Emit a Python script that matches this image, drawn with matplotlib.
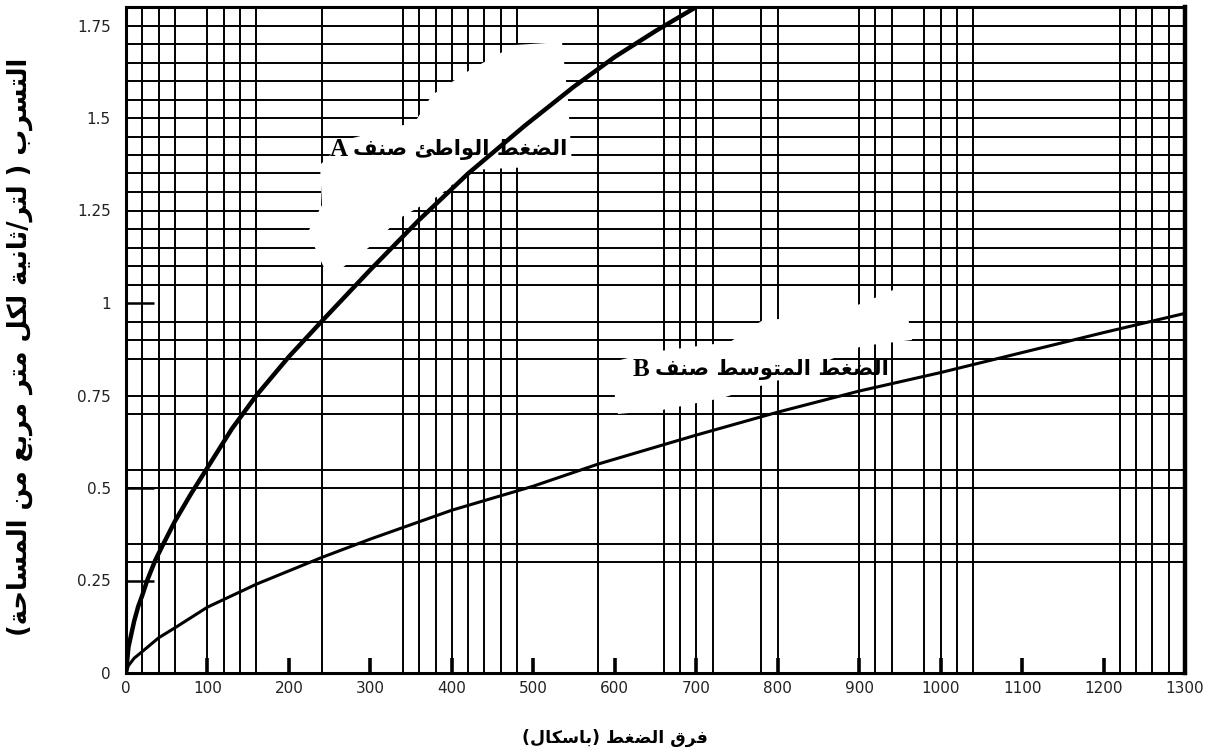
"""Leakage vs pressure difference chart for class A / class B ducts."""

import re

import matplotlib

matplotlib.use("Agg")
import matplotlib.pyplot as plt
from matplotlib.patches import Polygon
from matplotlib.ticker import FixedLocator

# values
pressure_a = [0, 3, 6, 10, 15, 20, 26, 36, 45, 60, 80, 100, 130, 160, 200, 240,
              300, 360, 420, 490, 550, 600, 650, 700]
leak_a = [0, 0.07, 0.1, 0.14, 0.18, 0.21, 0.25, 0.305, 0.345, 0.41, 0.485, 0.555,
          0.66, 0.75, 0.855, 0.95, 1.09, 1.225, 1.35, 1.48, 1.585, 1.665, 1.735, 1.8]

pressure_b = [0, 3, 10, 20, 40, 60, 100, 160, 240, 300, 400, 500, 580, 700, 800,
              900, 1000, 1100, 1200, 1300]
leak_b = [0, 0.02, 0.04, 0.058, 0.095, 0.122, 0.178, 0.24, 0.312, 0.362, 0.44,
          0.505, 0.565, 0.643, 0.705, 0.762, 0.812, 0.866, 0.92, 0.972]

x_ticks = list(range(0, 1301, 100))
x_marks = list(range(100, 1201, 100))
y_ticks = [0, 0.25, 0.5, 0.75, 1, 1.25, 1.5, 1.75]
y_tick_labels = ["0", "0.25", "0.5", "0.75", "1", "1.25", "1.5", "1.75"]
y_marks = [0.25, 0.5, 1.0]

# the printed chart paper grid
v_grid = [20, 40, 60, 100, 120, 140, 160, 240, 340, 360, 380, 400, 420, 440, 460,
          480, 580, 660, 680, 700, 720, 780, 800, 900, 920, 940, 980, 1000, 1020,
          1040, 1220, 1240, 1260, 1280]
h_grid = [0.3, 0.35, 0.5, 0.55, 0.7, 0.75, 0.85, 0.9, 0.95, 1.05, 1.1, 1.15, 1.2,
          1.25, 1.3, 1.35, 1.4, 1.45, 1.5, 1.55, 1.6, 1.65, 1.7, 1.75]

x_title = "فرق الضغط (باسكال)"
y_title = "التسرب ( لتر/ثانية لكل متر مربع من المساحة)"
label_a = "الضغط الواطئ صنف"
label_b = "الضغط المتوسط صنف"

# --- minimal Arabic shaping (matplotlib has no complex text layout) ---
DUAL = {0x0626: 0xFE89, 0x0628: 0xFE8F, 0x062A: 0xFE95, 0x062B: 0xFE99,
        0x062C: 0xFE9D, 0x062D: 0xFEA1, 0x062E: 0xFEA5, 0x0633: 0xFEB1,
        0x0634: 0xFEB5, 0x0635: 0xFEB9, 0x0636: 0xFEBD, 0x0637: 0xFEC1,
        0x0638: 0xFEC5, 0x0639: 0xFEC9, 0x063A: 0xFECD, 0x0641: 0xFED1,
        0x0642: 0xFED5, 0x0643: 0xFED9, 0x0644: 0xFEDD, 0x0645: 0xFEE1,
        0x0646: 0xFEE5, 0x0647: 0xFEE9, 0x064A: 0xFEF1}
RIGHT = {0x0622: 0xFE81, 0x0623: 0xFE83, 0x0624: 0xFE85, 0x0625: 0xFE87,
         0x0627: 0xFE8D, 0x0629: 0xFE93, 0x062F: 0xFEA9, 0x0630: 0xFEAB,
         0x0631: 0xFEAD, 0x0632: 0xFEAF, 0x0648: 0xFEED, 0x0649: 0xFEEF}
LAM_ALEF = {0x0622: 0xFEF5, 0x0623: 0xFEF7, 0x0625: 0xFEF9, 0x0627: 0xFEFB}


def shape_arabic(text: str) -> str:
    cps = [ord(c) for c in text]
    out = []
    i = 0
    while i < len(cps):
        cp = cps[i]
        prev = i > 0 and cps[i - 1] in DUAL
        nxt = i + 1 < len(cps) and (cps[i + 1] in DUAL or cps[i + 1] in RIGHT)
        if cp == 0x0644 and i + 1 < len(cps) and cps[i + 1] in LAM_ALEF:
            base = LAM_ALEF[cps[i + 1]]
            out.append(chr(base + 1 if prev else base))
            i += 2
            continue
        if cp in DUAL:
            base = DUAL[cp]
            if prev and nxt:
                out.append(chr(base + 3))
            elif prev:
                out.append(chr(base + 1))
            elif nxt:
                out.append(chr(base + 2))
            else:
                out.append(chr(base))
        elif cp in RIGHT:
            out.append(chr(RIGHT[cp] + 1 if prev else RIGHT[cp]))
        else:
            out.append(chr(cp))
        i += 1
    return "".join(out)


def rtl(text: str) -> str:
    visual = shape_arabic(text)[::-1].translate(str.maketrans("()", ")("))
    return re.sub(r"[A-Za-z0-9.]+", lambda m: m.group(0)[::-1], visual)


W, H = 1221, 756


def px(x, y):
    return (x / W, 1 - y / H)


fig = plt.figure(figsize=(W / 100, H / 100), dpi=100)
ax = fig.add_axes([126 / W, 1 - 673 / H, (1185 - 126) / W, (673 - 7) / H])
ax.set_xlim(0, 1300)
ax.set_ylim(0, 1.8)

for x in v_grid:
    ax.axvline(x, color="black", lw=1.4, zorder=1)
for y in h_grid:
    ax.axhline(y, color="black", lw=1.4, zorder=1)

# white erased patches behind the curve labels
blob_a = [(325, 270), (308, 232), (322, 205), (320, 165), (345, 140), (415, 122),
          (432, 95), (470, 70), (515, 45), (562, 42), (568, 100), (572, 165),
          (470, 170), (440, 195), (400, 218), (372, 245), (342, 268)]
blob_b = [(615, 398), (618, 414), (662, 410), (722, 398), (792, 376), (862, 346),
          (912, 340), (905, 300), (893, 290), (870, 300), (830, 316), (763, 320),
          (730, 342), (652, 352), (612, 362)]
for blob in (blob_a, blob_b):
    ax.add_patch(Polygon([px(*p) for p in blob], closed=True, transform=fig.transFigure,
                         facecolor="white", edgecolor="none", zorder=2))

ax.plot(pressure_a, leak_a, color="black", lw=3.2, zorder=3, solid_capstyle="round")
ax.plot(pressure_b, leak_b, color="black", lw=2.2, zorder=3, solid_capstyle="round")

tick_font = {"family": "DejaVu Sans", "size": 11, "color": "#222222"}
ax.set_xticks(x_ticks)
ax.set_xticklabels([str(v) for v in x_ticks], fontdict=tick_font)
ax.set_yticks(y_ticks)
ax.set_yticklabels(y_tick_labels, fontdict=tick_font)
ax.tick_params(axis="x", which="major", length=0, pad=6)
ax.tick_params(axis="y", which="major", length=0, pad=11)
ax.xaxis.remove_overlapping_locs = False
ax.yaxis.remove_overlapping_locs = False
ax.xaxis.set_minor_locator(FixedLocator(x_marks))
ax.yaxis.set_minor_locator(FixedLocator(y_marks))
ax.tick_params(axis="x", which="minor", direction="in", length=11, width=2.6, color="black")
ax.tick_params(axis="y", which="minor", direction="in", length=20, width=1.8, color="black")

for side in ["left", "bottom", "top"]:
    ax.spines[side].set_linewidth(2.2)
ax.spines["right"].set_linewidth(3.2)
for s in ax.spines.values():
    s.set_zorder(5)

ar_font = {"family": "DejaVu Sans", "weight": "bold"}
fig.text(*px(615, 738), rtl(x_title), ha="center", va="center", fontsize=12.5, **ar_font)
fig.text(*px(20, 347), rtl(y_title), ha="center", va="center", rotation=90,
         fontsize=18.5, **ar_font)

# curve labels: Latin class letter + Arabic text
ax.text(272, 1.415, "A", ha="right", va="center", fontsize=18, weight="bold",
        family="Liberation Serif", zorder=4)
ax.annotate(rtl(label_a), (272, 1.415), xytext=(4, 0), textcoords="offset points",
            ha="left", va="center", fontsize=15.2, zorder=4, **ar_font)
ax.text(643, 0.82, "B", ha="right", va="center", fontsize=18, weight="bold",
        family="Liberation Serif", zorder=4)
ax.annotate(rtl(label_b), (643, 0.82), xytext=(4, 0), textcoords="offset points",
            ha="left", va="center", fontsize=15.2, zorder=4, **ar_font)

fig.savefig("out.png", dpi=100)
